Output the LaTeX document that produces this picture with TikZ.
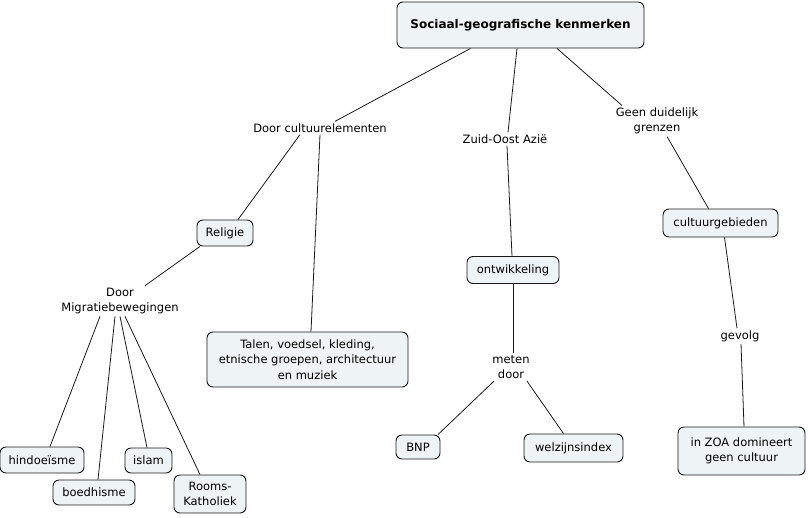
\documentclass[tikz,border=0pt]{standalone}
\usepackage{fontspec}
\setmainfont{DejaVu Sans}
\definecolor{boxfill}{HTML}{EEF3F5}
\definecolor{edgecol}{HTML}{1A1A1A}
\begin{document}
\begin{tikzpicture}[x=1pt,y=-1pt,
  box/.style={draw=edgecol,fill=boxfill,rounded corners=6pt,line width=0.9pt,inner xsep=3pt,inner ysep=3pt,align=center,font=\fontsize{11.5}{15.5}\selectfont},
  lbl/.style={inner sep=2pt,align=center,font=\fontsize{11.5}{15.5}\selectfont},
  link/.style={draw=edgecol,line width=0.8pt}]
\useasboundingbox (0,0) rectangle (808,517);
\node[box,minimum width=247pt,minimum height=46pt,font=\bfseries\fontsize{12}{14}\selectfont] (title) at (520.5,25) {Sociaal-geografische kenmerken};
\node[lbl] (cult) at (320,128) {Door cultuurelementen};
\node[lbl] (zoa) at (505,139) {Zuid-Oost Azië};
\node[lbl] (geen) at (657,121) {Geen duidelijk\\grenzen};
\node[box,minimum width=56pt,minimum height=26pt] (rel) at (225,233) {Religie};
\node[lbl] (migr) at (120,301) {Door\\Migratiebewegingen};
\node[box,minimum width=201pt,minimum height=55pt] (talen) at (307.5,359.5) {Talen, voedsel, kleding,\\etnische groepen, architectuur\\en muziek};
\node[box,minimum width=92pt,minimum height=27pt] (ontw) at (513,270) {ontwikkeling};
\node[lbl] (meten) at (511,367) {meten\\door};
\node[box,minimum width=44pt,minimum height=24pt] (bnp) at (418,447) {BNP};
\node[box,minimum width=99pt,minimum height=28pt] (welz) at (573.5,448) {welzijnsindex};
\node[box,minimum width=115pt,minimum height=28pt] (cultg) at (720.5,223) {cultuurgebieden};
\node[lbl] (gevolg) at (740,336) {gevolg};
\node[box,minimum width=127pt,minimum height=48pt] (inzoa) at (741.5,451) {in ZOA domineert\\geen cultuur};
\node[box,minimum width=84pt,minimum height=26pt] (hindo) at (42,460) {hindoeïsme};
\node[box,minimum width=82pt,minimum height=25pt] (boed) at (94,492.5) {boedhisme};
\node[box,minimum width=47pt,minimum height=25pt] (islam) at (148.5,460.5) {islam};
\node[box,minimum width=72pt,minimum height=38pt] (rooms) at (210,494) {Rooms-\\Katholiek};
\draw[link] ([xshift=-50pt]title.south) -- ([xshift=15pt]cult.north);
\draw[link] ([xshift=-3.5pt]title.south) -- ([xshift=3pt]zoa.north);
\draw[link] ([xshift=36.5pt]title.south) -- ([xshift=-35pt]geen.north);
\draw[link] ([xshift=-20pt]cult.south) -- ([xshift=13pt]rel.north);
\draw[link] (cult.south) -- ([xshift=3.5pt]talen.north);
\draw[link] ([xshift=-25pt]rel.south) -- ([xshift=25pt]migr.north);
\draw[link] ([xshift=-20pt]migr.south) -- ([xshift=8pt]hindo.north);
\draw[link] ([xshift=-5pt]migr.south) -- ([xshift=4pt]boed.north);
\draw[link] (migr.south) -- ([xshift=-1.5pt]islam.north);
\draw[link] ([xshift=5pt]migr.south) -- ([xshift=-10pt]rooms.north);
\draw[link] ([xshift=2pt]zoa.south) -- ([xshift=-1pt]ontw.north);
\draw[link] (ontw.south) -- ([xshift=2pt]meten.north);
\draw[link] ([xshift=-17pt]meten.south) -- ([xshift=20pt]bnp.north);
\draw[link] ([xshift=16pt]meten.south) -- ([xshift=-10pt]welz.north);
\draw[link] ([xshift=10pt]geen.south) -- ([xshift=-12pt]cultg.north);
\draw[link] ([xshift=4pt]cultg.south) -- ([xshift=-3pt]gevolg.north);
\draw[link] ([xshift=1pt]gevolg.south) -- ([xshift=2.5pt]inzoa.north);
\end{tikzpicture}
\end{document}
